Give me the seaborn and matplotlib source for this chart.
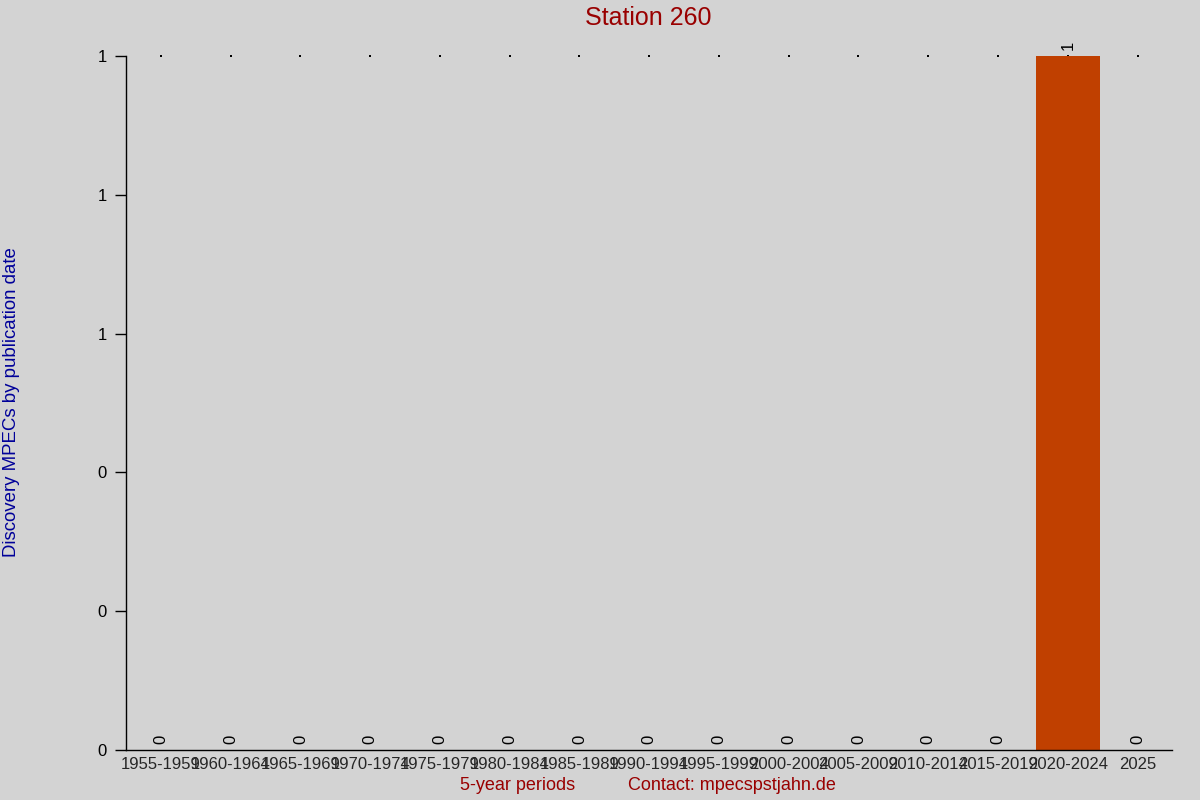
import numpy as np
import pandas as pd
import matplotlib
matplotlib.use('Agg')
import matplotlib.pyplot as plt
import seaborn as sns
from matplotlib.ticker import FuncFormatter

# Data
periods = ['1955-1959', '1960-1964', '1965-1969', '1970-1974', '1975-1979',
           '1980-1984', '1985-1989', '1990-1994', '1995-1999', '2000-2004',
           '2005-2009', '2010-2014', '2015-2019', '2020-2024', '2025']
counts = [0, 0, 0, 0, 0, 0, 0, 0, 0, 0, 0, 0, 0, 1, 0]
y_ticks = [0, 0.2, 0.4, 0.6, 0.8, 1.0]

df = pd.DataFrame({'Period': periods, 'Count': counts})

sns.set_theme(style='white')
plt.rcParams['font.family'] = ['Liberation Sans', 'DejaVu Sans']

bg = '#d3d3d3'
fig = plt.figure(figsize=(12, 8), dpi=100, facecolor=bg)
ax = fig.add_axes([0.105, 0.0625, 0.872, 0.8675], facecolor=bg)

sns.barplot(data=df, x='Period', y='Count', color='#c04000', width=0.92,
            saturation=1, linewidth=0, edgecolor='none', ax=ax)

# tiny dots along the top, drawn under the bars
ax.scatter(range(len(periods)), [1] * len(periods), s=1.2, color='black',
           marker='s', linewidths=0, zorder=0.5, clip_on=False)

# value labels, rotated
for i, v in enumerate(counts):
    ax.annotate(str(v), (i, v), xytext=(0, 4), textcoords='offset points',
                rotation=90, ha='center', va='bottom', fontsize=12,
                color='black', annotation_clip=False)

ax.set_xlim(-0.5, 14.5)
ax.set_ylim(0, 1)
ax.set_yticks(y_ticks)
ax.yaxis.set_major_formatter(FuncFormatter(lambda v, p: f'{v:.0f}'))
ax.tick_params(axis='y', direction='out', length=8, width=1, labelsize=12,
               colors='black', left=True, pad=6)
ax.tick_params(axis='x', length=0, labelsize=12, pad=5)

for s in ['top', 'right']:
    ax.spines[s].set_visible(False)
for s in ['left', 'bottom']:
    ax.spines[s].set_color('black')
    ax.spines[s].set_linewidth(1)

ax.set_xlabel('')
ax.set_ylabel('')

fig.text(0.54, 0.977, 'Station 260', ha='center', va='center',
         fontsize=18, color='#990000')
fig.text(0.0095, 0.497, 'Discovery MPECs by publication date', rotation=90,
         ha='center', va='center', fontsize=13.4, color='#000099')
fig.text(0.431, 0.018, '5-year periods', ha='center', va='center',
         fontsize=13, color='#990000')
fig.text(0.61, 0.018, 'Contact: mpecspstjahn.de', ha='center', va='center',
         fontsize=13, color='#990000')

fig.savefig('out.png', dpi=100, facecolor=bg)
